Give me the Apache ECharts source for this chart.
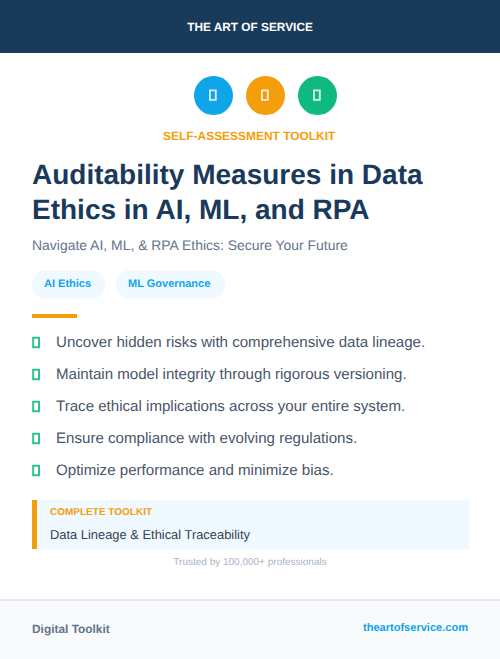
<!DOCTYPE html>
<html><head><meta charset="utf-8">
<style>html,body{margin:0;padding:0;background:#fff}#c{width:500px;height:659px}
svg text{text-rendering:geometricPrecision}
svg circle{shape-rendering:crispEdges}</style>
<script src="https://cdn.jsdelivr.net/npm/echarts@6/dist/echarts.min.js"></script>
</head><body><div id="c"></div>
<script>
const brand = 'THE ART OF SERVICE';
const kicker = 'SELF-ASSESSMENT TOOLKIT';
const titleLines = ['Auditability Measures in Data', 'Ethics in AI, ML, and RPA'];
const subtitle = 'Navigate AI, ML, & RPA Ethics: Secure Your Future';
const tags = ['AI Ethics', 'ML Governance'];
const bullets = [
  'Uncover hidden risks with comprehensive data lineage.',
  'Maintain model integrity through rigorous versioning.',
  'Trace ethical implications across your entire system.',
  'Ensure compliance with evolving regulations.',
  'Optimize performance and minimize bias.'
];
const calloutLabel = 'COMPLETE TOOLKIT';
const calloutText = 'Data Lineage & Ethical Traceability';
const trusted = 'Trusted by 100,000+ professionals';
const footerLeft = 'Digital Toolkit';
const footerRight = 'theartofservice.com';

const FONT = '"Liberation Sans", Arial, sans-serif';
const rect = (x, y, w, h, fill, r) => ({type:'rect', shape:{x, y, width:w, height:h, r:r||0}, style:{fill}, silent:true});
const text = (x, y, t, size, weight, fill, align) => ({type:'text', x, y, silent:true,
  style:{text:t, fontSize:size, fontWeight:weight, fontFamily:FONT, fill, textAlign:align||'left', textVerticalAlign:'middle'}});
const tofu = (x, y, w, h, stroke, lw, op) => ({type:'rect', shape:{x, y, width:w, height:h}, silent:true,
  style:{fill:'none', stroke, lineWidth:lw, opacity:op||1}});

const els = [];
els.push(rect(0, 0, 500, 659, '#ffffff'));
els.push(rect(0, 0, 500, 53, '#1a3a5c'));
els.push(text(250, 27, brand, 11.85, 700, '#ffffff', 'center'));
[[213.5,'#0ea5e9'],[265.5,'#f59e0b'],[317.5,'#10b981']].forEach(([cx, c]) => {
  els.push({type:'circle', shape:{cx, cy:95.5, r:19.5}, style:{fill:c}, silent:true});
  els.push(tofu(cx-3.6, 90.3, 5.9, 9.6, '#ffffff', 1.8, 0.85));
});
els.push(text(249.2, 135.5, kicker, 11.95, 700, '#f59e0b', 'center'));
els.push(text(32, 174, titleLines[0], 28, 700, '#1a3a5c'));
els.push(text(32, 209, titleLines[1], 28, 700, '#1a3a5c'));
els.push(text(32, 245, subtitle, 13.95, 400, '#64748b'));
els.push(rect(32, 270, 73, 29, '#f0f9ff', 14.5));
els.push(rect(116, 270, 109, 29, '#f0f9ff', 14.5));
els.push(text(44, 283.5, tags[0], 11, 700, '#0ea5e9'));
els.push(text(128, 283.5, tags[1], 11, 700, '#0ea5e9'));
els.push(rect(32, 314, 45, 4, '#f59e0b'));
bullets.forEach((b, i) => {
  const y = 342.5 + i * 32;
  els.push(tofu(33.2, y - 4.8, 5.8, 9.6, '#2ec48d', 2));
  els.push(text(56, y - 0.5, b, 15.1, 400, '#475569'));
});
els.push(rect(32, 500, 437, 49, '#f0f9ff'));
els.push(rect(32, 500, 5, 49, '#f59e0b'));
els.push(text(50, 512.5, calloutLabel, 10, 700, '#f59e0b'));
els.push(text(50, 534.5, calloutText, 12.9, 400, '#334155'));
els.push(text(250, 562.5, trusted, 10, 400, '#a9b4c4', 'center'));
els.push(rect(0, 599, 500, 60, '#f8fafc'));
els.push(rect(0, 599, 500, 2, '#e2e8f0'));
els.push(text(32, 629, footerLeft, 11.9, 700, '#64748b'));
els.push(text(468, 628, footerRight, 11.05, 700, '#0ea5e9', 'right'));

const chart = echarts.init(document.getElementById('c'), null, {renderer:'svg', width:500, height:659});
chart.setOption({animation:false, graphic:{elements:els}});
</script></body></html>
